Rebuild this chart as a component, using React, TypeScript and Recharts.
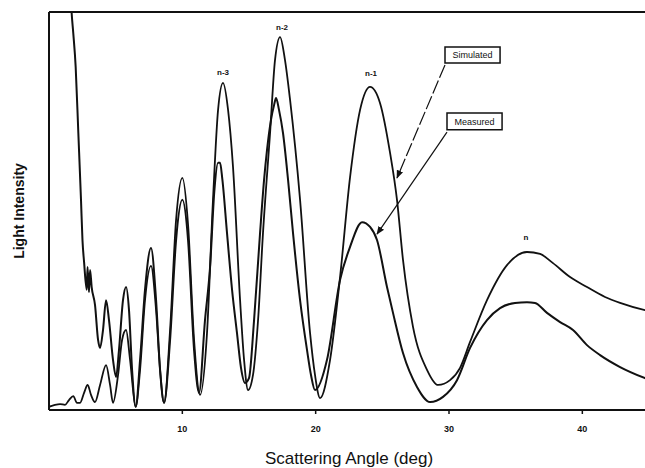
import {
  Line,
  LineChart,
  ReferenceArea,
  ReferenceDot,
  ReferenceLine,
  XAxis,
  YAxis,
} from "recharts";

// angle in degrees, intensity in arbitrary units (0..100 fills the frame)
const measuredAngle = [
  1.55, 1.7, 1.82, 2.0, 2.2, 2.4, 2.51, 2.63, 2.83, 2.89, 3.0, 3.08, 3.2, 3.45, 3.68, 3.83,
  4.05, 4.28, 4.5, 4.8, 5.03, 5.25, 5.55, 5.78, 6.0, 6.23, 6.5, 6.83, 7.2, 7.65, 8.03, 8.33,
  8.63, 9.08, 9.53, 10.0, 10.43, 10.88, 11.25, 11.7, 12.08, 12.4, 12.68, 12.83, 13.0, 13.35,
  13.73, 14.1, 14.4, 14.7, 15.0, 15.38, 15.83, 16.13, 16.35, 16.65, 16.88, 17.03, 17.25,
  17.55, 17.93, 18.3, 18.83, 19.35, 19.65, 19.95, 20.85, 21.83, 22.58, 23.48, 24.08, 24.6,
  25.35, 25.8, 26.55, 27.6, 28.58, 29.55, 30.6, 31.58, 32.85, 33.83, 34.95, 35.85, 36.45,
  37.35, 38.33, 39.3, 40.35, 41.33, 42.83, 44.7, 45,
];
const measuredValue = [
  110, 99.7, 94.7, 86.2, 69.6, 52.8, 42.7, 37.2, 30.2, 35.9, 29.6, 35.2, 30.9, 26.4, 17.6, 15.6,
  20.1, 27.6, 22.6, 12.6, 8.3, 15.1, 27.6, 30.9, 25.1, 10.1, 0.8, 12.6, 30.2, 40.7, 27.6, 10.1,
  1.8, 17.6, 42.7, 52.8, 42.7, 15.1, 4.3, 22.6, 35.9, 55, 62.1, 62.1, 58, 44.5,
  30.2, 19.3, 10.6, 6.8, 8.0, 22.6, 44.5, 57.8, 65.3, 72.9, 76.6, 78.4, 75.4,
  69.6, 57.8, 44.5, 27.6, 15.1, 8.8, 5.0, 12.6, 32.7, 41.0, 47.2, 46.0, 42.7,
  30.9, 24.4, 14.3, 5.8, 2.0, 3.3, 7.5, 15.6, 22.6, 25.6, 26.9, 27.1, 26.9,
  24.4, 22.1, 20.1, 16.3, 13.8, 10.8, 8.0, 7.6,
];

const simulatedAngle = [
  0, 0.45, 0.83, 1.2, 1.5, 1.82, 2.1, 2.33, 2.63, 2.9, 3.15, 3.45, 3.83, 4.28, 4.58, 4.8,
  5.18, 5.48, 5.78, 6.08, 6.5, 6.83, 7.2, 7.65, 8.03, 8.33, 8.63, 9.08, 9.53, 10.0, 10.43,
  10.88, 11.33, 11.85, 12.3, 12.68, 13.05, 13.43, 13.8, 14.33, 14.63, 14.93, 15.3, 15.68,
  16.05, 16.58, 16.95, 17.33, 17.7, 18.08, 18.83, 19.58, 19.95, 20.33, 21.08, 21.83, 22.58,
  23.33, 24.08, 24.83, 25.58, 26.1, 26.55, 27.3, 28.35, 29.18, 30.08, 30.83, 31.58, 32.85,
  34.35, 35.85, 36.83, 37.8, 39.08, 40.35, 41.7, 42.83, 44.7, 45,
];
const simulatedValue = [
  0.8, 1.3, 1.5, 1.3, 2.5, 3.5, 1.8, 1.8, 4.3, 6.3, 3.8, 2.0, 6.3, 11.3, 6.3, 1.8,
  8.8, 17.6, 20.1, 12.6, 0.8, 10.1, 27.6, 36.2, 25.1, 10.1, 1.8, 20.1, 47.7, 58.3, 46.5,
  17.6, 3.8, 19.3, 52.8, 75.4, 82.2, 75.4, 61.1, 27.6, 12.6, 5.0, 8.8, 22.6,
  44.5, 69.6, 87.9, 93.7, 87.9, 77.9, 52.8, 19.3, 8.8, 3.0, 12.6, 33.4, 58.5,
  75.4, 81.2, 77.1, 64.6, 52.8, 37.7, 20.9, 10.1, 6.3, 7.5, 10.6, 17.1, 27.6,
  36.4, 39.7, 39.2, 36.9, 33.4, 30.9, 28.4, 26.9, 25.1, 24.9,
];

const xTicks = [10, 20, 30, 40];

const peakLabels = [
  { angle: 13.05, value: 84.9, text: "n-3" },
  { angle: 17.48, value: 96.2, text: "n-2" },
  { angle: 24.15, value: 84.7, text: "n-1" },
  { angle: 35.78, value: 43.5, text: "n" },
];

const measured = measuredAngle.map((angle, i) => ({ angle, value: measuredValue[i] }));
const simulated = simulatedAngle.map((angle, i) => ({ angle, value: simulatedValue[i] }));

const font = "'Liberation Sans', Arial, sans-serif";

export default function App() {
  return (
    <div
      style={{
        position: "absolute",
        left: 0,
        top: 0,
        width: 645,
        height: 468,
        overflow: "hidden",
        background: "#fff",
      }}
    >
      <LineChart
        width={660}
        height={468}
        margin={{ top: 12, right: 11, bottom: 0, left: 0 }}
        style={{ fontFamily: font }}
      >
        <defs>
          <marker
            id="arrowHead"
            viewBox="0 0 10 10"
            refX="9"
            refY="5"
            markerWidth="7"
            markerHeight="7"
            orient="auto"
          >
            <path d="M0,1 L10,5 L0,9 z" fill="#111" />
          </marker>
        </defs>
        <XAxis
          type="number"
          dataKey="angle"
          domain={[0, 45]}
          ticks={xTicks}
          allowDataOverflow
          height={58}
          axisLine={{ stroke: "#111", strokeWidth: 2 }}
          tickLine={{ stroke: "#111", strokeWidth: 1.5 }}
          tickSize={4}
          tickMargin={12}
          tick={{ fontSize: 9, fontWeight: 700, fill: "#111", fontFamily: font }}
          label={{
            value: "Scattering Angle (deg)",
            position: "insideBottom",
            offset: 4,
            style: { fontSize: 17, fill: "#111", fontFamily: font },
          }}
        />
        <YAxis
          type="number"
          domain={[0, 100]}
          allowDataOverflow
          width={49}
          tick={false}
          tickLine={false}
          axisLine={{ stroke: "#111", strokeWidth: 2 }}
          label={{
            value: "Light Intensity",
            angle: -90,
            position: "insideLeft",
            offset: 19,
            style: {
              textAnchor: "middle",
              fontSize: 14,
              fontWeight: 700,
              fill: "#111",
              fontFamily: font,
            },
          }}
        />
        <ReferenceLine y={100} stroke="#111" strokeWidth={2} />
        <Line
          data={simulated}
          dataKey="value"
          type="monotone"
          stroke="#111"
          strokeWidth={1.8}
          dot={false}
          isAnimationActive={false}
        />
        <Line
          data={measured}
          dataKey="value"
          type="monotone"
          stroke="#111"
          strokeWidth={2}
          dot={false}
          isAnimationActive={false}
        />
        {peakLabels.map((p) => (
          <ReferenceDot
            key={p.text}
            x={p.angle}
            y={p.value}
            r={0}
            stroke="none"
            ifOverflow="visible"
            label={{
              value: p.text,
              position: "center",
              style: { fontSize: 8, fontWeight: 700, fill: "#111", fontFamily: font },
            }}
          />
        ))}
        <ReferenceLine
          segment={[
            { x: 29.7, y: 86.7 },
            { x: 26.1, y: 58.3 },
          ]}
          stroke="#111"
          strokeWidth={1.2}
          strokeDasharray="14 3"
          markerEnd="url(#arrowHead)"
          ifOverflow="visible"
        />
        <ReferenceLine
          segment={[
            { x: 29.85, y: 69.8 },
            { x: 24.6, y: 44.2 },
          ]}
          stroke="#111"
          strokeWidth={1.2}
          markerEnd="url(#arrowHead)"
          ifOverflow="visible"
        />
        <ReferenceArea
          x1={29.7}
          x2={33.83}
          y1={87.2}
          y2={91.2}
          fill="#fff"
          fillOpacity={1}
          stroke="#111"
          strokeWidth={1.5}
          ifOverflow="visible"
          label={{
            value: "Simulated",
            position: "center",
            style: { fontSize: 9, fill: "#111", fontFamily: font },
          }}
        />
        <ReferenceArea
          x1={29.85}
          x2={33.98}
          y1={70.4}
          y2={74.6}
          fill="#fff"
          fillOpacity={1}
          stroke="#111"
          strokeWidth={1.5}
          ifOverflow="visible"
          label={{
            value: "Measured",
            position: "center",
            style: { fontSize: 9, fill: "#111", fontFamily: font },
          }}
        />
      </LineChart>
    </div>
  );
}
